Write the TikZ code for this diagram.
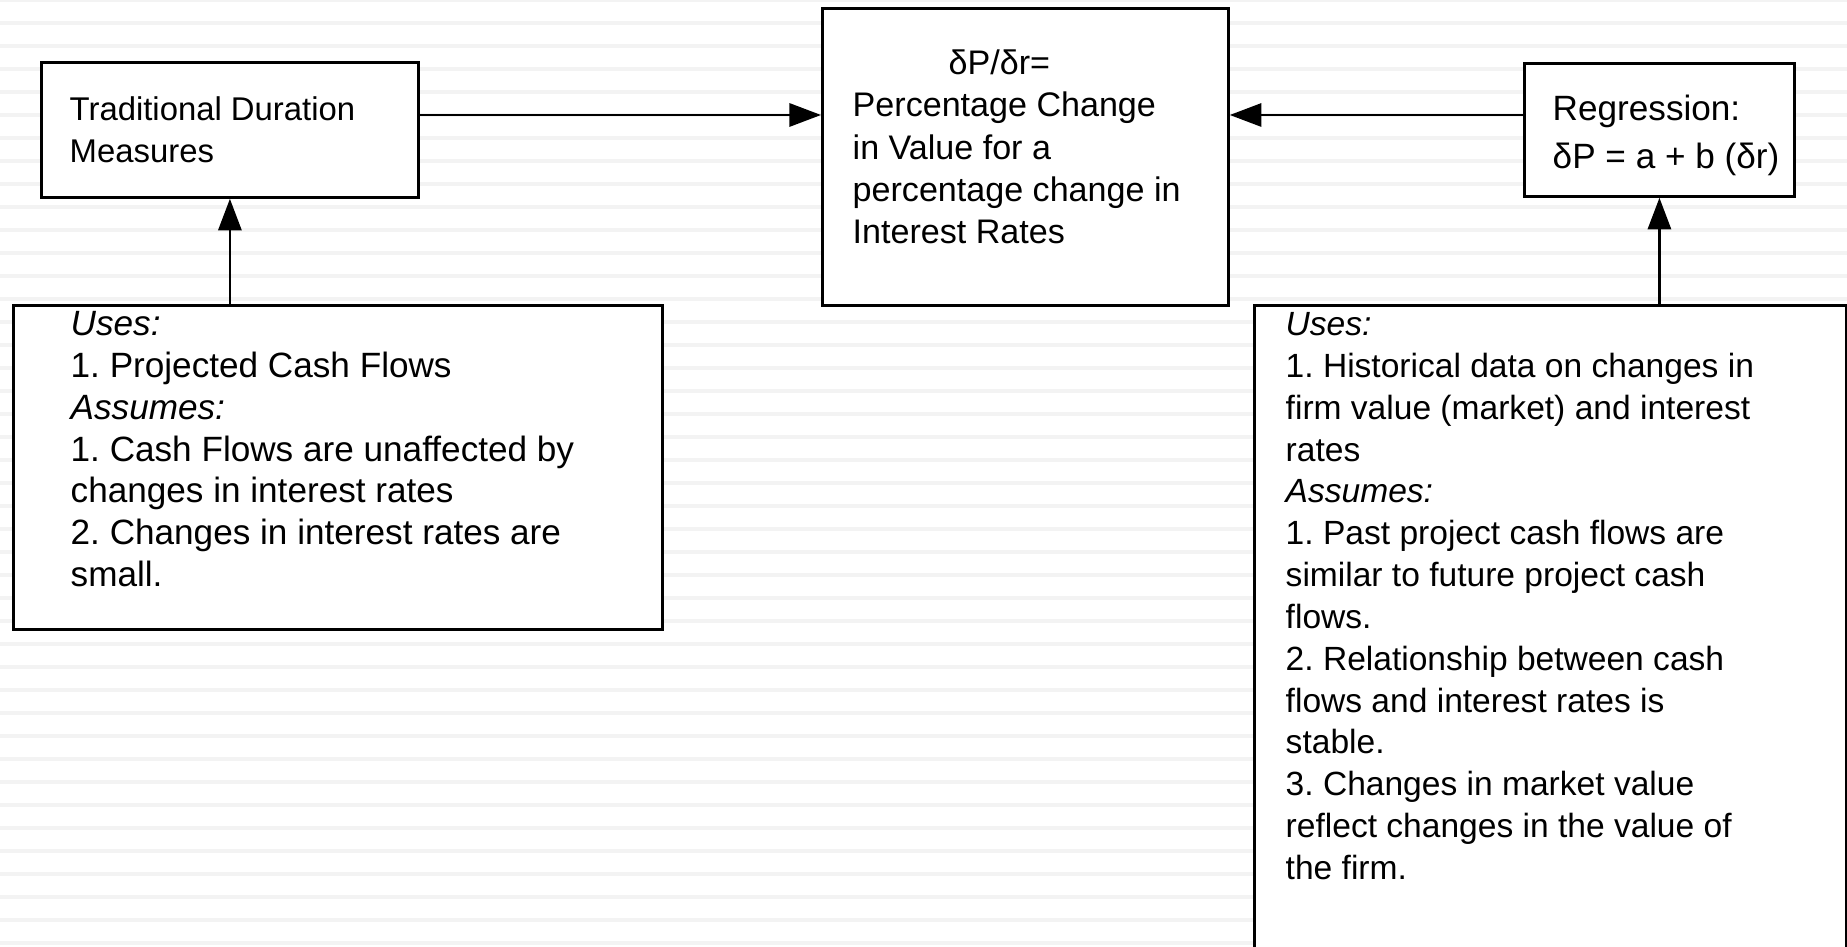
\documentclass[tikz,border=0pt]{standalone}
\usepackage{fontspec}
\setmainfont{Liberation Sans}
\usetikzlibrary{arrows.meta}
\definecolor{stripe}{RGB}{243,243,243}
\frenchspacing
\tikzset{
  box/.style={draw=black, line width=0.8pt, fill=white, inner sep=0pt, anchor=north west},
  txt/.style={anchor=north west, inner sep=0pt, align=left, font=\fontsize{10}{12}\selectfont},
  txtb/.style={anchor=north west, inner sep=0pt, align=left, font=\fontsize{10}{11.9}\selectfont},
  conn/.style={line width=0.75pt, -{Triangle[length=9pt,width=6.6pt]}},
}
\begin{document}
\begin{tikzpicture}[x=0.1mm, y=-0.1mm]
\path[use as bounding box] (0,0) rectangle (1847,947);
\clip (0,0) rectangle (1847,947);
% striped background
\foreach \k in {0,...,41} \fill[stripe] (0,23*\k-1.6) rectangle (1847,23*\k+1.6);
% boxes
\node[box, minimum width=37.7mm, minimum height=13.5mm] (trad) at (40,61) {};
\node[box, minimum width=40.6mm, minimum height=29.7mm] (center) at (821,7) {};
\node[box, minimum width=27.0mm, minimum height=13.3mm] (regr) at (1523,62) {};
\node[box, minimum width=64.9mm, minimum height=32.4mm] (lowL) at (12,304) {};
\node[box, minimum width=59.2mm, minimum height=67.6mm] (lowR) at (1253,304) {};
% texts
\node[txt, font=\fontsize{9.35}{12}\selectfont] (tradtxt) at (69,90.5) {\strut Traditional Duration\\Measures};
\node[txt, font=\fontsize{9.7}{12}\selectfont] (centertxt) at (852,44.5) {\strut\hspace*{27.3pt}δP/δr=\\Percentage Change\\in Value for a\\percentage change in\\Interest Rates};
\node[txt, font=\fontsize{10}{13.7}\selectfont] (regrtxt) at (1552,86.3) {\strut Regression:\\δP = a + b (δr)};
\node[txtb] (lowLtxt) at (70,305.7) {\strut\textit{Uses:}\\1. Projected Cash Flows\\\textit{Assumes:}\\1. Cash Flows are unaffected by\\changes in interest rates\\2. Changes in interest rates are\\small.};
\node[txtb, font=\fontsize{9.55}{11.9}\selectfont] (lowRtxt) at (1285,305.7) {\strut\textit{Uses:}\\1. Historical data on changes in\\firm value (market) and interest\\rates\\\textit{Assumes:}\\1. Past project cash flows are\\similar to future project cash\\flows.\\2. Relationship between cash\\flows and interest rates is\\stable.\\3. Changes in market value\\reflect changes in the value of\\the firm.};
% connectors
\coordinate (ya) at (0,115);
\draw[conn] (trad.east |- ya) -- (center.west |- ya);
\draw[conn] (regr.west |- ya) -- (center.east |- ya);
\draw[conn] (lowL.north -| trad.south) -- (trad.south);
\draw[conn] (lowR.north -| regr.south) -- (regr.south);
\end{tikzpicture}
\end{document}
